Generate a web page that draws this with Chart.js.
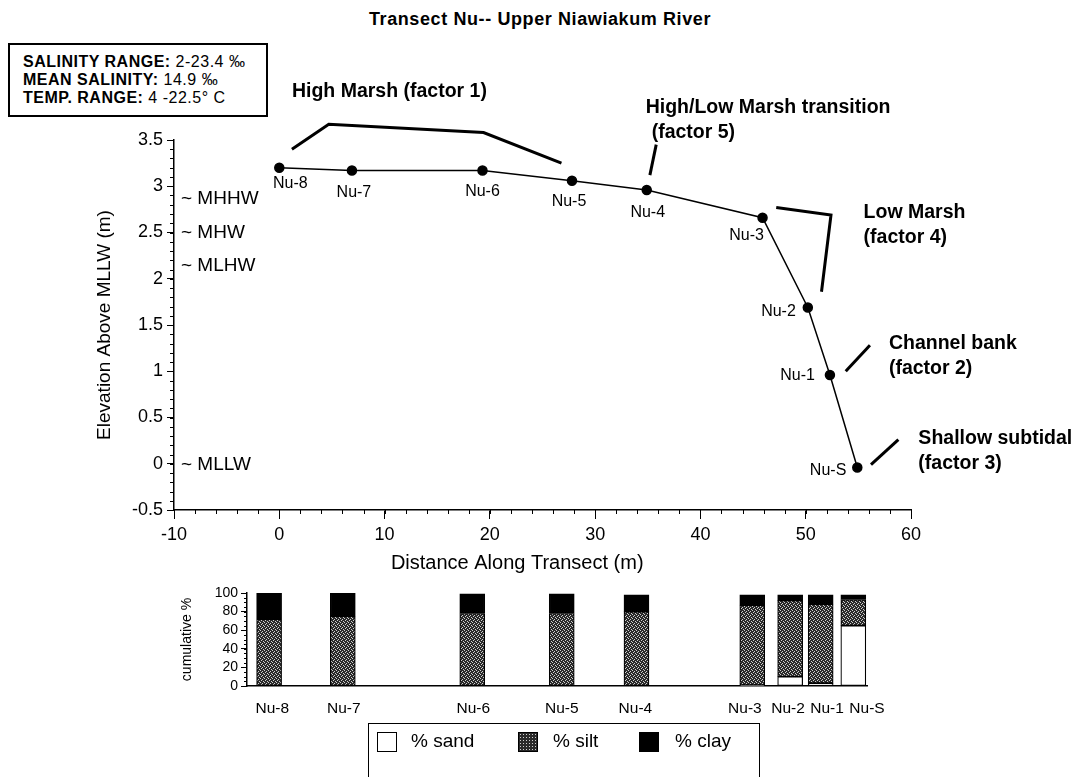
<!DOCTYPE html>
<html>
<head>
<meta charset="utf-8">
<script src="https://cdn.jsdelivr.net/npm/chart.js@4.4.1/dist/chart.umd.min.js"></script>
<style>
  body { margin: 0; background: #fff; width: 1080px; height: 777px; overflow: hidden; position: relative;
         font-family: "Liberation Sans", Arial, Helvetica, sans-serif; color: #000; }
  canvas { position: absolute; left: 0; }
  #profile { top: 0; }
  #texture { top: 570px; }
  .title { position: absolute; left: 540px; top: 19px; transform: translate(-50%, -50%);
           font-weight: bold; font-size: 18px; letter-spacing: 0.6px; white-space: nowrap; }
  .info { position: absolute; left: 8px; top: 43px; width: 243px; border: 2px solid #000;
          padding: 8px 0 8px 13px; font-size: 16px; line-height: 18px;
          letter-spacing: 0.5px; white-space: nowrap; }
  .info b { font-weight: bold; }
  .legend { position: absolute; left: 368px; top: 723px; width: 390px; height: 54px;
            border: 1.5px solid #000; }
  .legend .sw { position: absolute; top: 8px; width: 18px; height: 18px; border: 1.5px solid #000; }
  .legend .lb { position: absolute; top: 17px; transform: translateY(-50%); font-size: 19px; white-space: nowrap; }
  .sand { background: #fff; }
  .silt { background-color: #2a2a2a;
          background-image: radial-gradient(#cfcfcf 0.7px, transparent 0.9px);
          background-size: 3px 3px; }
  .clay { background: #000; }
</style>
</head>
<body>
<div class="title">Transect Nu-- Upper Niawiakum River</div>
<div class="info">
  <div><b>SALINITY RANGE:</b> 2-23.4 ‰</div>
  <div><b>MEAN SALINITY:</b> 14.9 ‰</div>
  <div><b>TEMP. RANGE:</b> 4 -22.5° C</div>
</div>
<canvas id="profile" width="1080" height="777"></canvas>
<canvas id="texture" width="1080" height="207"></canvas>
<div class="legend">
  <div class="sw sand" style="left:8px"></div><div class="lb" style="left:42px">% sand</div>
  <div class="sw silt" style="left:149px"></div><div class="lb" style="left:184px">% silt</div>
  <div class="sw clay" style="left:270px"></div><div class="lb" style="left:306px">% clay</div>
</div>
<script>
// stations along the transect
const stations = ['Nu-8', 'Nu-7', 'Nu-6', 'Nu-5', 'Nu-4', 'Nu-3', 'Nu-2', 'Nu-1', 'Nu-S'];
const distance = [0, 6.9, 19.3, 27.8, 34.9, 45.9, 50.2, 52.3, 54.9];
const elevation = [3.2, 3.17, 3.17, 3.06, 2.96, 2.66, 1.69, 0.96, -0.04];

// tidal datums (m above MLLW)
const tideNames = ['MHHW', 'MHW', 'MLHW', 'MLLW'];
const tideLevels = [2.88, 2.51, 2.15, 0];

// grain size, cumulative %
const sandPct = [0, 0, 0, 0, 0, 1, 10, 3, 65];
const siltPct = [72, 75, 78, 78, 80, 86, 82, 85, 28];
const clayPct = [28, 25, 21, 21, 18, 11, 6, 10, 5];
// where each bar sits in the lower strip (last three spread apart), and its label
const stripPos = [0, 7, 19.3, 27.8, 34.9, 45.9, 49.5, 52.4, 55.5];
const stripLabelPos = [0.3, 7.1, 19.4, 27.8, 34.8, 45.2, 49.3, 53.0, 56.8];

const distTicks = [-10, 0, 10, 20, 30, 40, 50, 60];
const elevTicks = [-0.5, 0, 0.5, 1, 1.5, 2, 2.5, 3, 3.5];
const pctTicks = [0, 20, 40, 60, 80, 100];

const FONT = '"Liberation Sans", Arial, Helvetica, sans-serif';
Chart.defaults.font.family = FONT;
Chart.defaults.color = '#000';

// label placement next to each station point [dx, dy, align]
const labelOffsets = [
  [11, 16, 'center'], [2, 22, 'center'], [0, 21, 'center'], [-3, 21, 'center'], [1, 23, 'center'],
  [-16, 18, 'center'], [-12, 4, 'right'], [-15, 1, 'right'], [-11, 3, 'right'],
];

// factor callouts: text anchor and leader path in data units
const callouts = [
  { lines: ['High Marsh (factor 1)'], at: [1.2, 4.02], path: [[1.2, 3.4], [4.7, 3.67], [19.4, 3.58], [26.8, 3.25]] },
  { lines: ['High/Low Marsh transition', '(factor 5)'], at: [34.8, 3.85], indent: 6, path: [[35.8, 3.45], [35.2, 3.12]] },
  { lines: ['Low Marsh', '(factor 4)'], at: [55.5, 2.71], path: [[47.2, 2.77], [52.4, 2.69], [51.5, 1.86]] },
  { lines: ['Channel bank', '(factor 2)'], at: [57.9, 1.3], path: [[53.8, 1.0], [56.1, 1.28]] },
  { lines: ['Shallow subtidal', '(factor 3)'], at: [60.7, 0.27], path: [[56.2, -0.01], [58.8, 0.26]] },
];
// the x title in the original sits left of the axis centre
const xTitle = { text: 'Distance Along Transect (m)', at: 22.6, dy: 53 };

function drawMinor(ctx, scale, step, len) {
  const n = Math.round((scale.max - scale.min) / step);
  ctx.beginPath();
  for (let i = 0; i <= n; i += 1) {
    const p = Math.round(scale.getPixelForValue(scale.min + i * step)) + 0.5;
    if (scale.isHorizontal()) {
      ctx.moveTo(p, scale.top);
      ctx.lineTo(p, scale.top + len);
    } else {
      ctx.moveTo(scale.right, p);
      ctx.lineTo(scale.right - len, p);
    }
  }
  ctx.stroke();
}

const profileDecor = {
  id: 'profileDecor',
  afterDraw(chart) {
    const { ctx, scales: { x, y }, chartArea } = chart;
    ctx.save();
    ctx.strokeStyle = '#000';
    ctx.lineWidth = 1;
    drawMinor(ctx, x, 2, 4);
    drawMinor(ctx, y, 0.1, 4);

    ctx.fillStyle = '#000';
    ctx.textBaseline = 'middle';
    ctx.font = `16px ${FONT}`;
    stations.forEach((name, i) => {
      const [dx, dy, align] = labelOffsets[i];
      ctx.textAlign = align;
      ctx.fillText(name, x.getPixelForValue(distance[i]) + dx, y.getPixelForValue(elevation[i]) + dy);
    });

    ctx.textAlign = 'center';
    ctx.font = `20px ${FONT}`;
    ctx.fillText(xTitle.text, x.getPixelForValue(xTitle.at), chartArea.bottom + xTitle.dy);

    ctx.textAlign = 'left';
    ctx.font = `19px ${FONT}`;
    tideNames.forEach((name, i) => {
      ctx.fillText(`~ ${name}`, chartArea.left + 7, y.getPixelForValue(tideLevels[i]) + 1);
    });

    ctx.font = `bold 19.5px ${FONT}`;
    ctx.lineWidth = 3;
    callouts.forEach((c) => {
      const tx = x.getPixelForValue(c.at[0]);
      const ty = y.getPixelForValue(c.at[1]);
      c.lines.forEach((line, k) => {
        ctx.fillText(line, tx + (k ? c.indent || 0 : 0), ty + k * 25);
      });
      ctx.beginPath();
      c.path.forEach(([px, py], k) => {
        const X = x.getPixelForValue(px);
        const Y = y.getPixelForValue(py);
        if (k) ctx.lineTo(X, Y); else ctx.moveTo(X, Y);
      });
      ctx.stroke();
    });
    ctx.restore();
  },
};

new Chart(document.getElementById('profile'), {
  type: 'scatter',
  data: {
    datasets: [{
      data: distance.map((d, i) => ({ x: d, y: elevation[i] })),
      showLine: true,
      borderColor: '#000',
      borderWidth: 1.5,
      pointRadius: 4.5,
      pointBackgroundColor: '#000',
      pointBorderColor: '#000',
    }],
  },
  options: {
    responsive: false,
    animation: false,
    layout: { padding: { left: 89, right: 169, top: 140, bottom: 199 } },
    plugins: { legend: { display: false }, tooltip: { enabled: false } },
    scales: {
      x: {
        type: 'linear',
        min: -10,
        max: 60,
        afterBuildTicks: (s) => { s.ticks = distTicks.map((value) => ({ value })); },
        afterFit: (s) => { s.height = 68; },
        grid: { drawOnChartArea: false, color: '#000', tickLength: 9 },
        border: { color: '#000', width: 1.5 },
        ticks: { font: { size: 18 }, padding: 5, maxRotation: 0, callback: (v) => String(v) },
      },
      y: {
        type: 'linear',
        min: -0.5,
        max: 3.5,
        afterBuildTicks: (s) => { s.ticks = elevTicks.map((value) => ({ value })); },
        afterFit: (s) => { s.width = 85; },
        grid: { drawOnChartArea: false, color: '#000', tickLength: 7 },
        border: { color: '#000', width: 1.5 },
        ticks: { font: { size: 18 }, padding: 4, callback: (v) => String(v) },
        title: { display: true, text: 'Elevation Above MLLW (m)', font: { size: 19 } },
      },
    },
  },
  plugins: [profileDecor],
});

// lower strip: stacked grain size bars
function siltPattern() {
  const c = document.createElement('canvas');
  c.width = 4;
  c.height = 4;
  const g = c.getContext('2d');
  g.fillStyle = '#2a2a2a';
  g.fillRect(0, 0, 4, 4);
  g.fillStyle = '#cfcfcf';
  [[0, 0], [2, 1], [1, 2], [3, 3]].forEach(([a, b]) => g.fillRect(a, b, 1, 1));
  return g.createPattern(c, 'repeat');
}

const textureDecor = {
  id: 'textureDecor',
  afterDraw(chart) {
    const { ctx, scales: { y } } = chart;
    ctx.save();
    ctx.strokeStyle = '#000';
    ctx.lineWidth = 1;
    drawMinor(ctx, y, 5, 3);
    ctx.restore();
  },
};

const bar = (label, values, fill) => ({
  label,
  data: stripPos.map((x, i) => ({ x, y: values[i] })),
  backgroundColor: fill,
  borderColor: '#000',
  borderWidth: 1.2,
  borderSkipped: false,
  barThickness: 25,
});

new Chart(document.getElementById('texture'), {
  type: 'bar',
  data: {
    datasets: [
      bar('% sand', sandPct, '#fff'),
      bar('% silt', siltPct, siltPattern()),
      bar('% clay', clayPct, '#000'),
    ],
  },
  options: {
    responsive: false,
    animation: false,
    layout: { padding: { left: 177, right: 213, top: 23, bottom: 0 } },
    plugins: { legend: { display: false }, tooltip: { enabled: false } },
    scales: {
      x: {
        type: 'linear',
        stacked: true,
        offset: false,
        min: -2.1,
        max: 56.8,
        afterBuildTicks: (s) => { s.ticks = stripLabelPos.map((value) => ({ value })); },
        afterFit: (s) => { s.height = 91; },
        grid: { display: false, drawTicks: false },
        border: { color: '#000', width: 1.5 },
        ticks: {
          font: { size: 15.5 },
          padding: 13,
          autoSkip: false,
          maxRotation: 0,
          callback: (v, i) => stations[i],
        },
      },
      y: {
        stacked: true,
        min: 0,
        max: 100,
        afterBuildTicks: (s) => { s.ticks = pctTicks.map((value) => ({ value })); },
        afterFit: (s) => { s.width = 70; },
        grid: { drawOnChartArea: false, color: '#000', tickLength: 6 },
        border: { color: '#000', width: 1.5 },
        ticks: { font: { size: 14 }, padding: 3, autoSkip: false },
        title: { display: true, text: 'cumulative %', font: { size: 14 }, padding: 2 },
      },
    },
  },
  plugins: [textureDecor],
});
</script>
</body>
</html>
